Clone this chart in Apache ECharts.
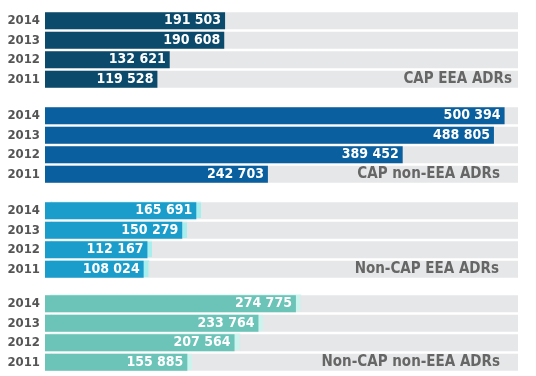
<!DOCTYPE html>
<html>
<head>
<meta charset="utf-8">
<script src="https://cdn.jsdelivr.net/npm/echarts@6/dist/echarts.min.js"></script>
<style>
  html, body { margin: 0; padding: 0; background: #fff; }
  #main { width: 536px; height: 376px; }
</style>
</head>
<body>
<div id="main"></div>
<script>
  const years = ['2014', '2013', '2012', '2011'];
  const groupNames = ['CAP EEA ADRs', 'CAP non-EEA ADRs', 'Non-CAP EEA ADRs', 'Non-CAP non-EEA ADRs'];
  const capEea = [191503, 190608, 132621, 119528];
  const capNonEea = [500394, 488805, 389452, 242703];
  const nonCapEea = [165691, 150279, 112167, 108024];
  const nonCapNonEea = [274775, 233764, 207564, 155885];
  const groupValues = [capEea, capNonEea, nonCapEea, nonCapNonEea];
  // each panel in the original has its own slightly different scale
  const axisMax = [503000, 515000, 518000, 518000];
  const colors = ['#0b4a6b', '#0a5f9e', '#1b9dcc', '#6cc3b8'];
  const glow = [null, null, 'rgba(160,240,240,0.9)', 'rgba(200,245,240,0.9)'];
  const titleGap = [6, 18, 19, 18];

  const dom = document.getElementById('main');
  const myChart = echarts.init(dom);
  const font = '"DejaVu Sans Condensed", "DejaVu Sans", Verdana, sans-serif';
  const tops = [11, 106, 201, 294];

  const fmt = v => String(v).replace(/\B(?=(\d{3})+(?!\d))/g, ' ');

  let grid = [], xAxis = [], yAxis = [], series = [];
  groupValues.forEach((vals, i) => {
    grid.push({ left: 45, right: 18, top: tops[i], height: 78 });
    xAxis.push({
      gridIndex: i, type: 'value', min: 0, max: axisMax[i], show: false
    });
    yAxis.push({
      gridIndex: i, type: 'category', data: years, inverse: true,
      axisLine: { show: false }, axisTick: { show: false },
      axisLabel: { interval: 0, color: '#555', fontWeight: 'bold', fontSize: 13, fontFamily: font, margin: 5 }
    });
    yAxis.push({
      gridIndex: i, type: 'category', data: years, inverse: true, position: 'right',
      z: 10,
      axisLine: { show: false }, axisTick: { show: false },
      axisLabel: {
        interval: 0, hideOverlap: false,
        inside: true, margin: titleGap[i], color: '#666', fontWeight: 'bold', fontSize: 15, fontFamily: font,
        formatter: (v, idx) => idx === 3 ? groupNames[i] : ''
      }
    });
    series.push({
      type: 'bar', xAxisIndex: i, yAxisIndex: 2 * i, data: vals,
      barWidth: 17, z: 1,
      showBackground: true,
      backgroundStyle: { color: '#e6e7e8' },
      itemStyle: {
        color: colors[i],
        shadowColor: glow[i] || 'rgba(0,0,0,0)',
        shadowOffsetX: glow[i] ? 5 : 0,
        shadowOffsetY: glow[i] ? -1 : 0,
        shadowBlur: glow[i] ? 1 : 0
      },
      label: {
        show: true, position: 'insideRight', distance: 4,
        color: '#fff', fontWeight: 'bold', fontSize: 14, fontFamily: font,
        formatter: p => fmt(p.value)
      }
    });
  });

  const option = {
    animation: false,
    grid: grid,
    xAxis: xAxis,
    yAxis: yAxis,
    series: series
  };
  myChart.setOption(option, true);
</script>
</body>
</html>
